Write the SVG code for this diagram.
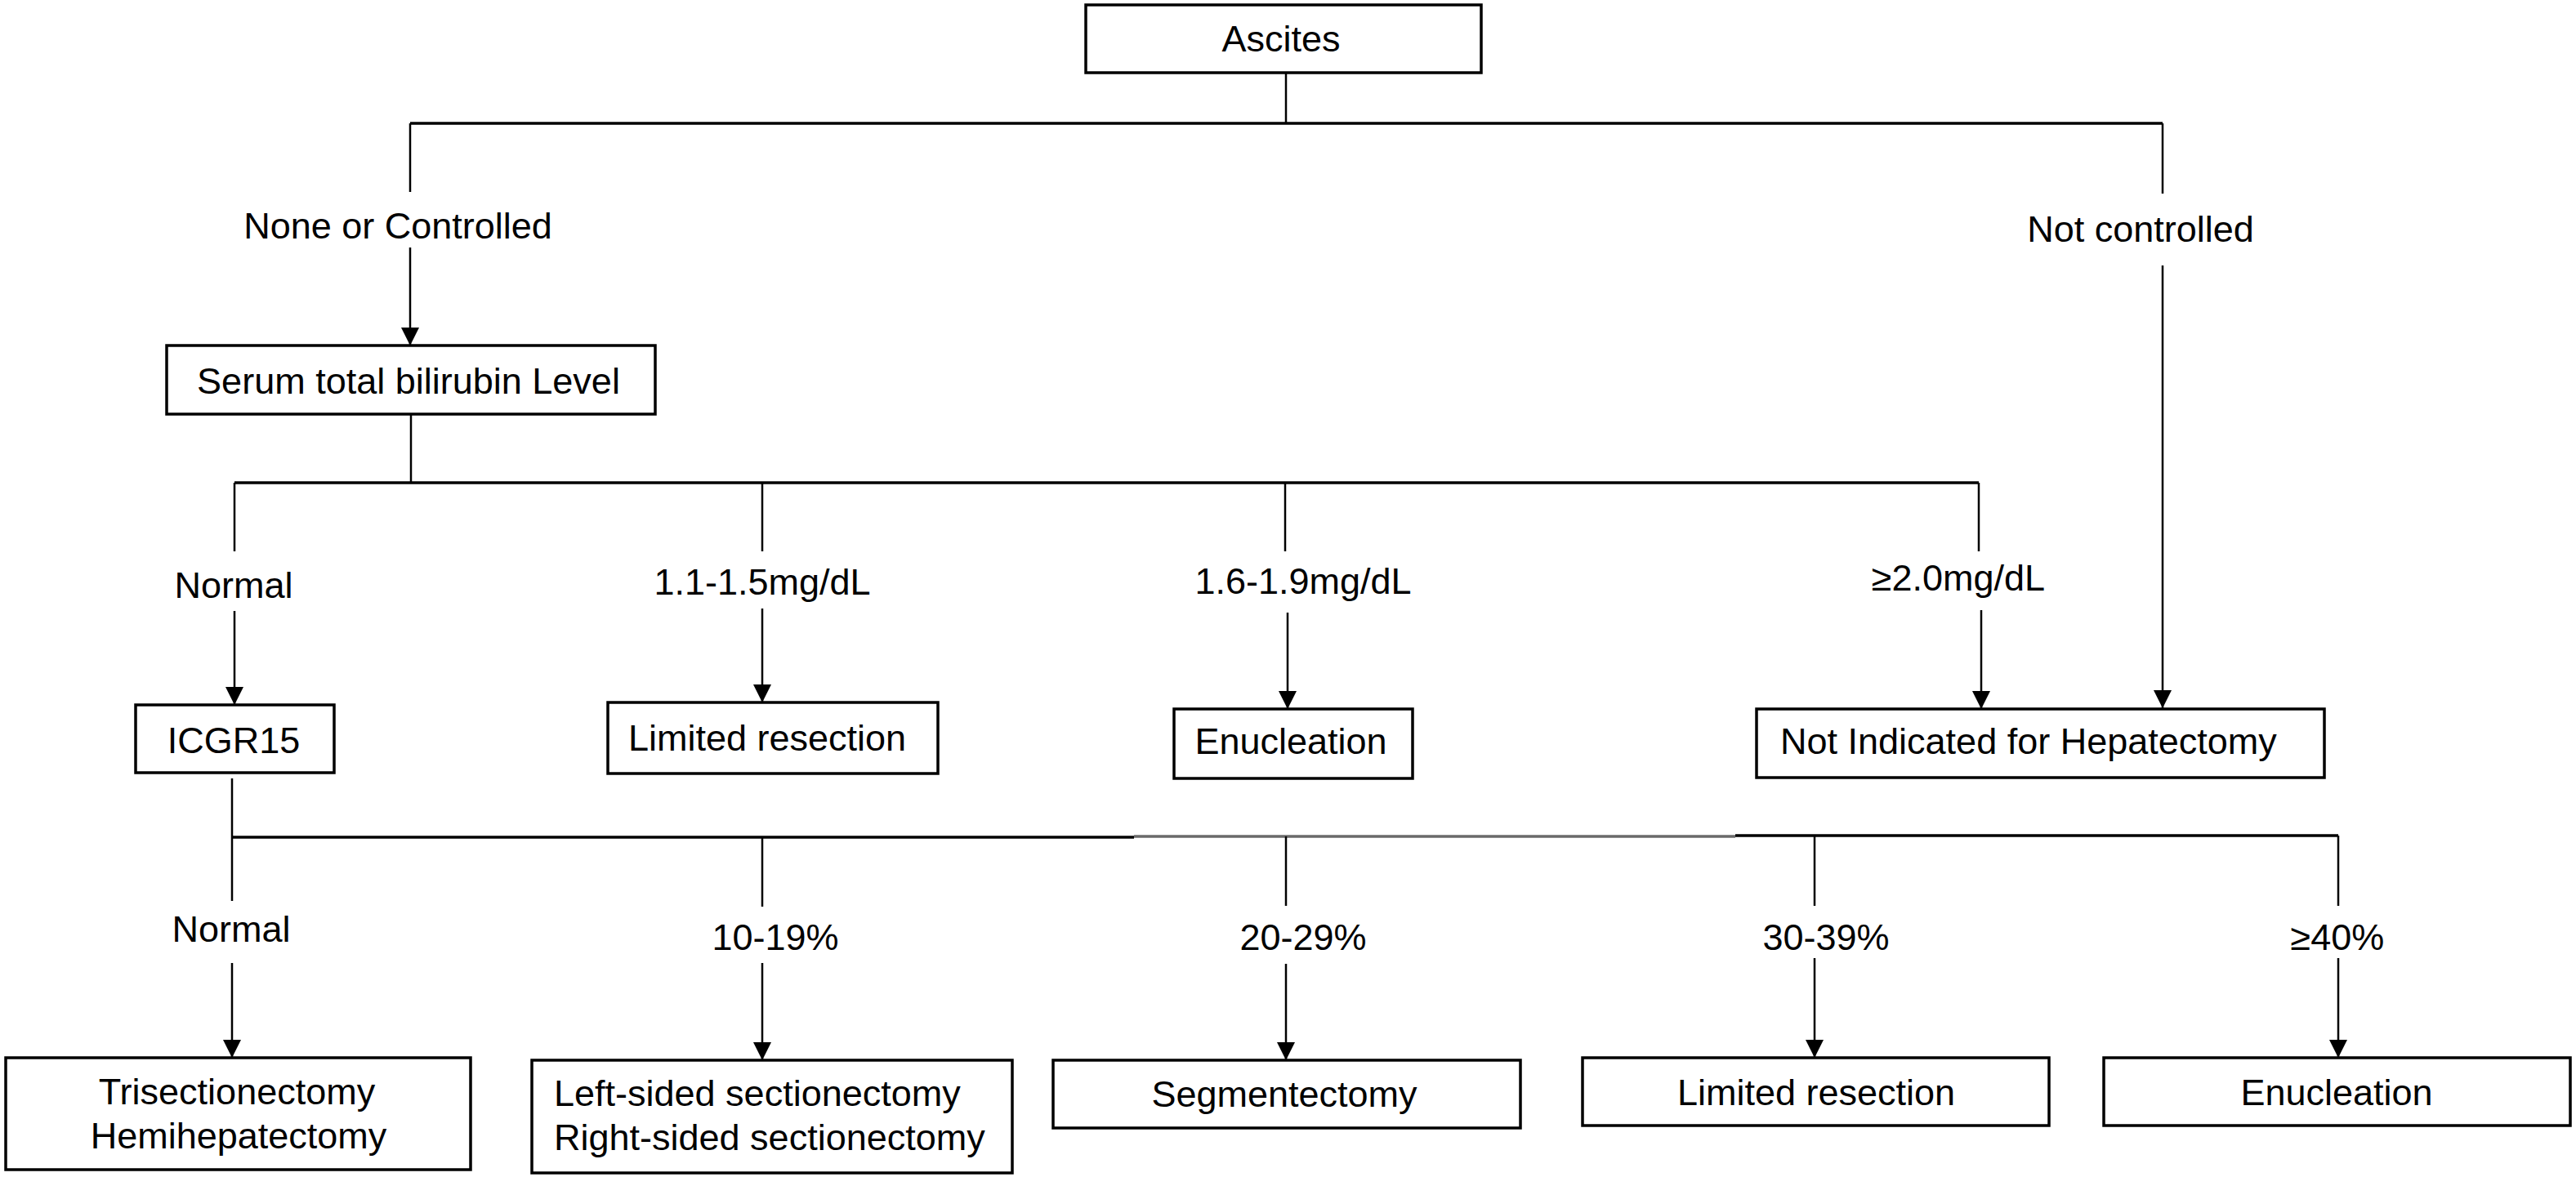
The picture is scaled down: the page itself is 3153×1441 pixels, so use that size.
<svg xmlns="http://www.w3.org/2000/svg" width="3153" height="1441" viewBox="0 0 3153 1441">
<style>
.box{fill:#fff;stroke:#000;stroke-width:3.5}
.ln{stroke:#000;stroke-width:2.5;fill:none}
.hl{stroke:#000;stroke-width:3.5;fill:none}
.gl{stroke:#6a6a6a;stroke-width:3.5;fill:none}
text{font-family:"Liberation Sans",Arial,sans-serif;font-size:45px;fill:#000}
.c{text-anchor:middle}
</style>
<defs>
<marker id="ah" markerUnits="userSpaceOnUse" viewBox="0 0 22 22" markerWidth="22" markerHeight="22" refX="22" refY="11" orient="auto">
<path d="M0,0 L22,11 L0,22 z" fill="#000"/>
</marker>
</defs>
<rect width="3153" height="1441" fill="#fff"/>
<g id="connectors">
<line class="ln" x1="1574" y1="89" x2="1574" y2="151"/>
<line class="hl" x1="502" y1="151" x2="2647" y2="151"/>
<line class="ln" x1="502" y1="151" x2="502" y2="235"/>
<line class="ln" x1="502" y1="303" x2="502" y2="423" marker-end="url(#ah)"/>
<line class="ln" x1="2647" y1="151" x2="2647" y2="237"/>
<line class="ln" x1="2647" y1="325" x2="2647" y2="867" marker-end="url(#ah)"/>
<line class="ln" x1="503" y1="507" x2="503" y2="591"/>
<line class="hl" x1="287" y1="591" x2="2422" y2="591"/>
<line class="ln" x1="287" y1="591" x2="287" y2="675"/>
<line class="ln" x1="287" y1="748" x2="287" y2="863" marker-end="url(#ah)"/>
<line class="ln" x1="933" y1="591" x2="933" y2="675"/>
<line class="ln" x1="933" y1="745" x2="933" y2="860" marker-end="url(#ah)"/>
<line class="ln" x1="1573" y1="591" x2="1573" y2="675"/>
<line class="ln" x1="1576" y1="750" x2="1576" y2="868" marker-end="url(#ah)"/>
<line class="ln" x1="2422" y1="591" x2="2422" y2="675"/>
<line class="ln" x1="2425" y1="747" x2="2425" y2="868" marker-end="url(#ah)"/>
<line class="ln" x1="284" y1="953" x2="284" y2="1103"/>
<line class="hl" x1="284" y1="1025" x2="1388" y2="1025"/>
<line class="gl" x1="1388" y1="1024" x2="2124" y2="1024"/>
<line class="hl" x1="2124" y1="1023" x2="2862" y2="1023"/>
<line class="ln" x1="284" y1="1179" x2="284" y2="1295" marker-end="url(#ah)"/>
<line class="ln" x1="933" y1="1025" x2="933" y2="1110"/>
<line class="ln" x1="933" y1="1179" x2="933" y2="1298" marker-end="url(#ah)"/>
<line class="ln" x1="1574" y1="1024" x2="1574" y2="1109"/>
<line class="ln" x1="1574" y1="1180" x2="1574" y2="1298" marker-end="url(#ah)"/>
<line class="ln" x1="2221" y1="1023" x2="2221" y2="1109"/>
<line class="ln" x1="2221" y1="1173" x2="2221" y2="1295" marker-end="url(#ah)"/>
<line class="ln" x1="2862" y1="1023" x2="2862" y2="1109"/>
<line class="ln" x1="2862" y1="1173" x2="2862" y2="1295" marker-end="url(#ah)"/>
</g>
<g id="labels">
<text class="c" x="487" y="292">None or Controlled</text>
<text class="c" x="2620" y="296">Not controlled</text>
<text class="c" x="286" y="732">Normal</text>
<text class="c" x="933" y="728">1.1-1.5mg/dL</text>
<text class="c" x="1595" y="727">1.6-1.9mg/dL</text>
<text class="c" x="2397" y="723">≥2.0mg/dL</text>
<text class="c" x="283" y="1153">Normal</text>
<text class="c" x="949" y="1163">10-19%</text>
<text class="c" x="1595" y="1163">20-29%</text>
<text class="c" x="2235" y="1163">30-39%</text>
<text class="c" x="2861" y="1163">≥40%</text>
</g>
<g id="ascites"><rect class="box" x="1329" y="6" width="484" height="83"/><text class="c" x="1568" y="63">Ascites</text></g>
<g id="serum"><rect class="box" x="204" y="423" width="598" height="84"/><text class="c" x="500" y="482">Serum total bilirubin Level</text></g>
<g id="icgr15"><rect class="box" x="166" y="863" width="243" height="83"/><text class="c" x="286" y="922">ICGR15</text></g>
<g id="limited1"><rect class="box" x="744" y="860" width="404" height="87"/><text class="c" x="939" y="919">Limited resection</text></g>
<g id="enucleation1"><rect class="box" x="1437" y="868" width="292" height="85"/><text class="c" x="1580" y="923">Enucleation</text></g>
<g id="notindicated"><rect class="box" x="2150" y="868" width="695" height="84"/><text x="2179" y="923">Not Indicated for Hepatectomy</text></g>
<g id="trisection"><rect class="box" x="7" y="1295" width="569" height="137"/><text class="c" x="290" y="1352">Trisectionectomy</text><text class="c" x="292" y="1406">Hemihepatectomy</text></g>
<g id="sectionectomy"><rect class="box" x="651" y="1298" width="588" height="138"/><text x="678" y="1354">Left-sided sectionectomy</text><text x="678" y="1408">Right-sided sectionectomy</text></g>
<g id="segmentectomy"><rect class="box" x="1289" y="1298" width="572" height="83"/><text class="c" x="1572" y="1355">Segmentectomy</text></g>
<g id="limited2"><rect class="box" x="1937" y="1295" width="571" height="83"/><text class="c" x="2223" y="1353">Limited resection</text></g>
<g id="enucleation2"><rect class="box" x="2575" y="1295" width="571" height="83"/><text class="c" x="2860" y="1353">Enucleation</text></g>
</svg>
